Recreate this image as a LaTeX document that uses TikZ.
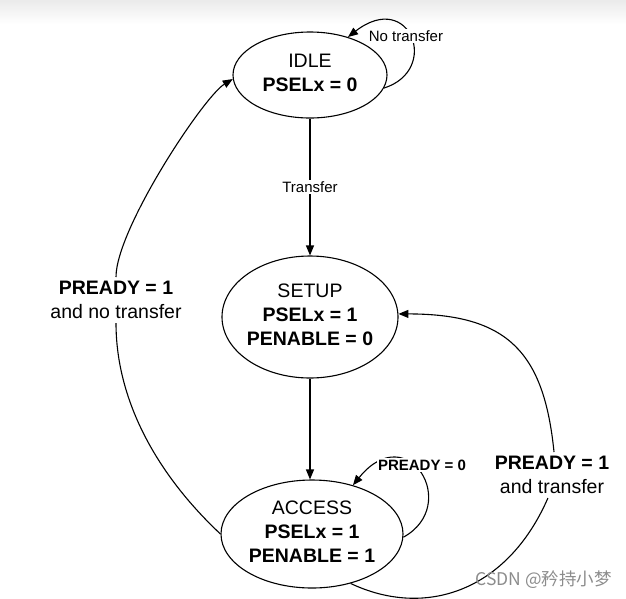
\documentclass[tikz,border=0pt]{standalone}
\usepackage{fontspec}
\setmainfont{Liberation Sans}
\newfontfamily\cjkfont{Noto Sans CJK SC}
\usetikzlibrary{arrows.meta,shapes.geometric}
\newcommand{\ctext}[1]{\makebox[0pt]{\begin{tabular}{@{}c@{}}#1\end{tabular}}}
\begin{document}
\begin{tikzpicture}[x=1pt,y=-1pt,
  state/.style={draw, ellipse, line width=1.1pt, inner sep=0pt, font=\fontsize{19.5}{24}\selectfont},
  conn/.style={line width=1.1pt, -{Triangle[length=10pt,width=8pt]}},
  plainline/.style={line width=1.1pt},
  biglab/.style={font=\fontsize{19.5}{24}\selectfont, align=center, inner sep=4pt},
  smalllab/.style={font=\fontsize{15}{18}\selectfont, fill=white, inner sep=1.5pt}]
\useasboundingbox (0,0) rectangle (626,598);
\shade[top color=black!8, bottom color=white] (0,0) rectangle (626,24);

\node[state, minimum width=154, minimum height=86] (idle) at (310,75)
  {\ctext{IDLE\\ \textbf{PSELx = 0}}};
\node[state, minimum width=176, minimum height=122] (setup) at (310,317)
  {\ctext{SETUP\\ \textbf{PSELx = 1}\\ \textbf{PENABLE = 0}}};
\node[state, minimum width=182, minimum height=108] (access) at (312,534)
  {\ctext{ACCESS\\ \textbf{PSELx = 1}\\ \textbf{PENABLE = 1}}};

\node[biglab] (lab1) at (116,300) {\textbf{PREADY = 1}\\ and no transfer};
\node[biglab] (lab2) at (552,475) {\textbf{PREADY = 1}\\ and transfer};

% IDLE -> SETUP
\draw[conn] (idle.south) -- node[smalllab, midway] (t1) {Transfer} (setup.north);
% SETUP -> ACCESS
\draw[conn] (setup.south) -- (setup.south |- access.north);

% IDLE self loop
\draw[conn] (idle.-10) .. controls +(57,-18) and +(62,-48) .. (idle.45);
\node[smalllab] (nt) at (406,36) {No transfer};

% ACCESS self loop
\draw[conn] (access.-2) .. controls +(58,-32) and +(55,-68) .. (access.50);
\node[smalllab] (p0) at (422,465) {\textbf{PREADY = 0}};

% ACCESS -> IDLE
\draw[plainline] (access.180) .. controls +(-66,-62) and +(0,75) .. (lab1.south);
\draw[conn] (lab1.north) .. controls +(0,-48) and +(-29,17.5) .. (idle.183);

% ACCESS -> SETUP
\draw[plainline] (access.-52) .. controls +(74,35) and +(-41,94) .. (lab2.260);
\draw[conn] (lab2.85) .. controls +(-10,-99) and +(110,0) .. (setup.2);

\node[font=\cjkfont\fontsize{17.5}{20}\selectfont, text=black!45, anchor=west] (wm) at (472,580) {CSDN @矜持小梦};
\end{tikzpicture}
\end{document}
